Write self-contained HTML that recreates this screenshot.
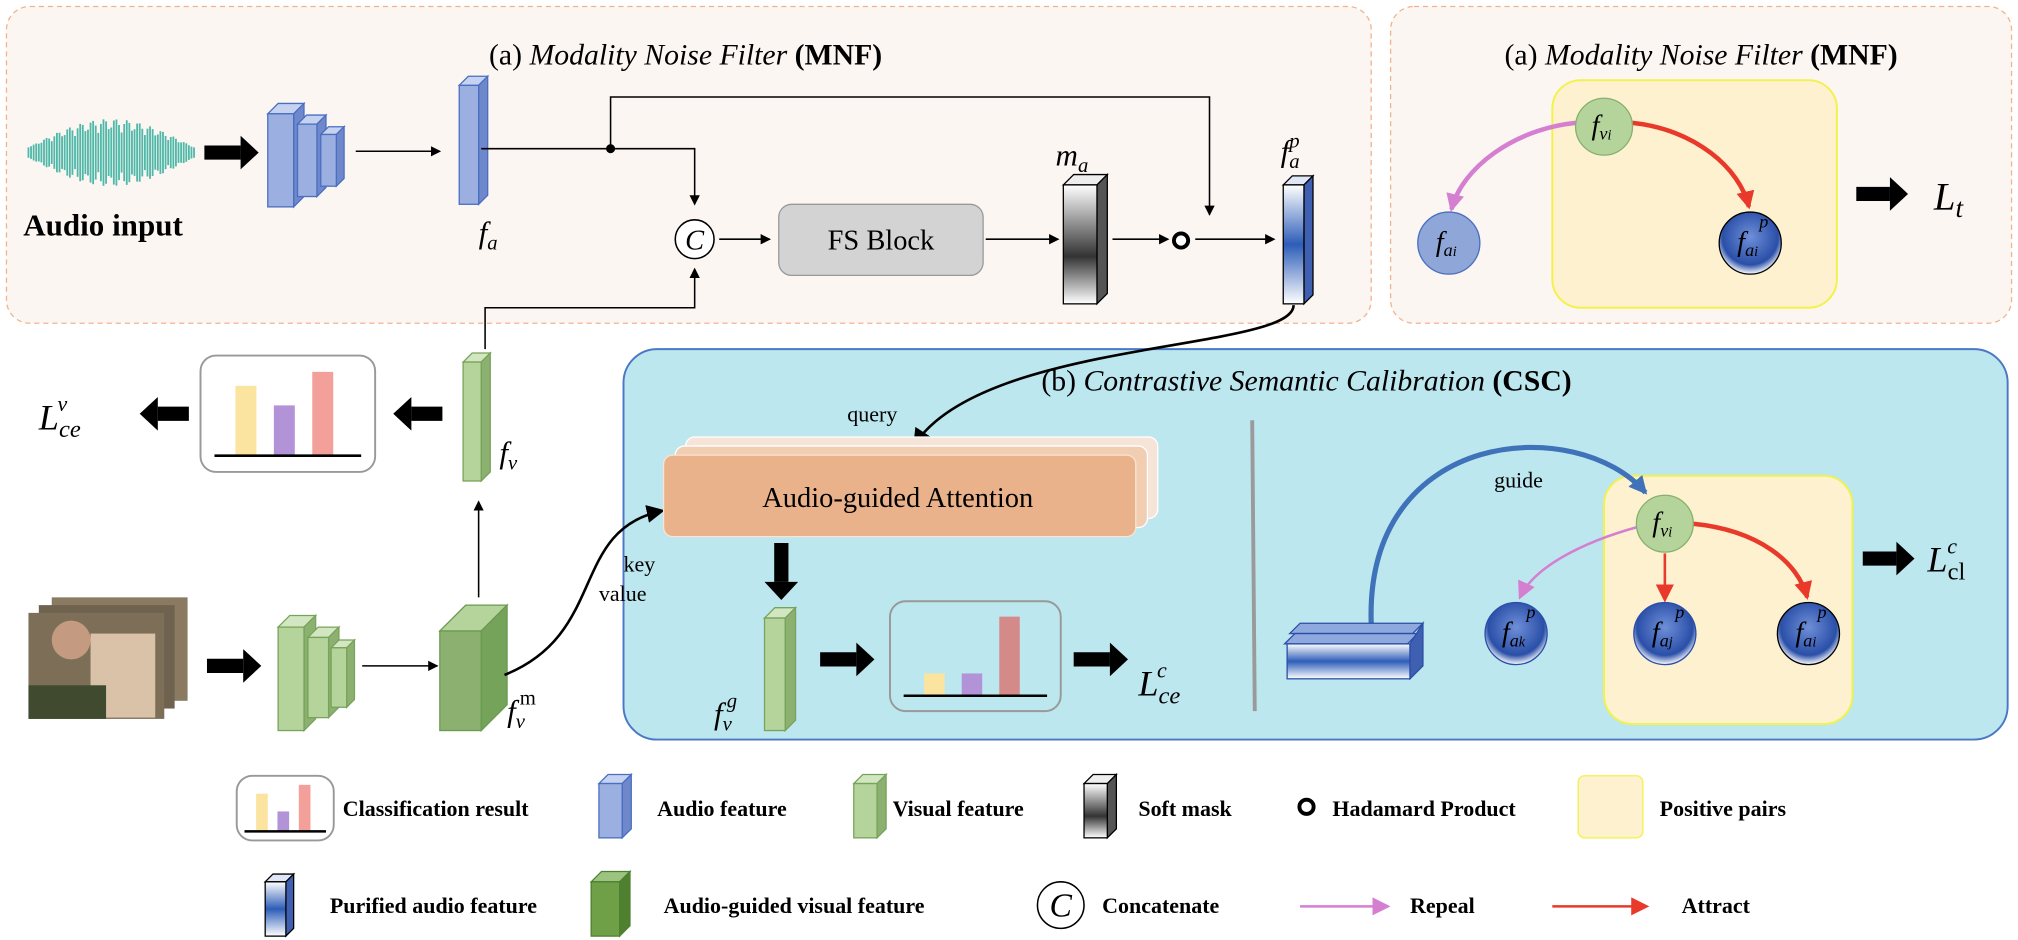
<!DOCTYPE html>
<html><head><meta charset="utf-8"><style>
html,body{margin:0;padding:0;background:#fff}
svg{display:block}
text{font-family:"Liberation Serif",serif}
.it{font-style:italic}
.b{font-weight:bold}
</style></head><body>
<svg id="s" width="2018" height="940" viewBox="0 0 1560 727" preserveAspectRatio="none" xmlns="http://www.w3.org/2000/svg">
<defs>
<marker id="ah" markerWidth="8" markerHeight="8" refX="7" refY="4" orient="auto" markerUnits="userSpaceOnUse"><path d="M0,0 L8,4 L0,8 z" fill="#000"/></marker>
<marker id="ahb" markerWidth="14" markerHeight="14" refX="12" refY="7" orient="auto" markerUnits="userSpaceOnUse"><path d="M0,0 L14,7 L0,14 z" fill="#000"/></marker>
<marker id="ahr" markerWidth="14" markerHeight="14" refX="12" refY="7" orient="auto" markerUnits="userSpaceOnUse"><path d="M0,0 L14,7 L0,14 z" fill="#e8392a"/></marker>
<marker id="ahp" markerWidth="14" markerHeight="14" refX="12" refY="7" orient="auto" markerUnits="userSpaceOnUse"><path d="M0,0 L14,7 L0,14 z" fill="#d47fd0"/></marker>
<marker id="ahg" markerWidth="14" markerHeight="14" refX="12" refY="7" orient="auto" markerUnits="userSpaceOnUse"><path d="M0,0 L14,7 L0,14 z" fill="#3f72b8"/></marker>
<linearGradient id="mask" x1="0" y1="0" x2="0" y2="1"><stop offset="0" stop-color="#fff"/><stop offset="0.6" stop-color="#333"/><stop offset="1" stop-color="#fff"/></linearGradient>
<linearGradient id="pur" x1="0" y1="0" x2="0" y2="1"><stop offset="0" stop-color="#fff"/><stop offset="0.5" stop-color="#2d5db8"/><stop offset="1" stop-color="#fff"/></linearGradient>
<radialGradient id="ball" cx="0.5" cy="0.4" r="0.6"><stop offset="0" stop-color="#6f8fd8"/><stop offset="0.75" stop-color="#2a4fa8"/><stop offset="1" stop-color="#fff"/></radialGradient>
</defs>

<!-- panels -->
<rect x="5" y="5" width="1055" height="245" rx="18" fill="#fcf6f3" stroke="#efb48c" stroke-dasharray="4 3"/>
<rect x="1075" y="5" width="480" height="245" rx="18" fill="#fcf6f3" stroke="#efb48c" stroke-dasharray="4 3"/>
<rect x="482" y="270" width="1070" height="302" rx="26" fill="#bde7ef" stroke="#4a78c4" stroke-width="1.5"/>
<text x="530" y="50" font-size="23" text-anchor="middle">(a) <tspan class="it">Modality Noise Filter</tspan> <tspan class="b">(MNF)</tspan></text>
<text x="1315" y="50" font-size="23" text-anchor="middle">(a) <tspan class="it">Modality Noise Filter</tspan> <tspan class="b">(MNF)</tspan></text>
<text x="1010" y="302" font-size="23" text-anchor="middle">(b) <tspan class="it">Contrastive Semantic Calibration</tspan> <tspan class="b">(CSC)</tspan></text>

<!-- audio input -->
<g id="wave"></g>
<text x="18" y="182" font-size="24" class="b">Audio input</text>
<g id="dyn"></g>

<!-- thin lines -->
<g fill="none" stroke="#000" stroke-width="1.2">
<line x1="275" y1="117" x2="340" y2="117" marker-end="url(#ah)"/>
<polyline points="372,115 537,115 537,158" marker-end="url(#ah)"/>
<polyline points="472,115 472,75 935,75 935,166" marker-end="url(#ah)"/>
<line x1="556" y1="185" x2="595" y2="185" marker-end="url(#ah)"/>
<line x1="762" y1="185" x2="818" y2="185" marker-end="url(#ah)"/>
<line x1="860" y1="185" x2="903" y2="185" marker-end="url(#ah)"/>
<line x1="924" y1="185" x2="985" y2="185" marker-end="url(#ah)"/>
<polyline points="375,270 375,238 537,238 537,208" marker-end="url(#ah)"/>
<line x1="370" y1="462" x2="370" y2="388" marker-end="url(#ah)"/>
<line x1="280" y1="515" x2="338" y2="515" marker-end="url(#ah)"/>
</g>
<circle cx="472" cy="115" r="3.5" fill="#000"/>
<g fill="none" stroke="#000" stroke-width="2">
<path d="M1000,236 C1000,272 760,262 707,344" marker-end="url(#ahb)"/>
<path d="M390,522 C470,490 440,410 512,395" marker-end="url(#ahb)"/>
</g>
<text x="655" y="326" font-size="17">query</text>
<text x="482" y="442" font-size="17">key</text>
<text x="463" y="465" font-size="17">value</text>

<!-- concat -->
<circle cx="537" cy="185" r="15" fill="#fff" stroke="#000" stroke-width="1.2"/>
<text x="537" y="193" font-size="22" class="it" text-anchor="middle">C</text>
<rect x="602" y="158" width="158" height="55" rx="10" fill="#d3d3d3" stroke="#999"/>
<text x="681" y="193" font-size="22" text-anchor="middle">FS Block</text>
<circle cx="913" cy="186" r="5.5" fill="#fff" stroke="#000" stroke-width="3"/>

<!-- labels -->
<g class="it" font-size="24">
<text x="370" y="188">f<tspan font-size="16" dy="5">a</tspan></text>
<text x="816" y="128">m<tspan font-size="16" dy="5">a</tspan></text>
<text x="990" y="125">f<tspan font-size="16" dy="5">a</tspan><tspan font-size="16" dx="-8" dy="-16">p</tspan></text>
<text x="386" y="358">f<tspan font-size="16" dy="5">v</tspan></text>
<text x="392" y="558">f<tspan font-size="16" dy="5">v</tspan><tspan font-size="16" dx="-4" dy="-18" font-style="normal">m</tspan></text>
<text x="552" y="560">f<tspan font-size="16" dy="5">v</tspan><tspan font-size="16" dx="-4" dy="-18">g</tspan></text>
<text x="30" y="332" font-size="28">L<tspan font-size="19" dy="6">ce</tspan><tspan font-size="17" dx="-18" dy="-20">v</tspan></text>
<text x="880" y="538" font-size="28">L<tspan font-size="19" dy="6">ce</tspan><tspan font-size="17" dx="-18" dy="-20">c</tspan></text>
<text x="1490" y="442" font-size="28">L<tspan font-size="19" dy="6" font-style="normal">cl</tspan><tspan font-size="17" dx="-14" dy="-20">c</tspan></text>
<text x="1495" y="162" font-size="30">L<tspan font-size="21" dy="6">t</tspan></text>
</g>

<!-- video frames -->
<g>
<rect x="40" y="462" width="105" height="80" fill="#8a7a62"/>
<rect x="30" y="468" width="105" height="80" fill="#6f6350"/>
<rect x="22" y="474" width="105" height="82" fill="#7d6e58"/>
<rect x="70" y="490" width="50" height="65" fill="#d9c2a8"/>
<circle cx="55" cy="495" r="15" fill="#c49b80"/>
<rect x="22" y="530" width="60" height="26" fill="#3f4a2e"/>
</g>

<!-- attention stack -->
<rect x="530" y="338" width="365" height="63" rx="7" fill="#f6e4d8" stroke="#fff"/>
<rect x="522" y="345" width="365" height="63" rx="7" fill="#f1cdb1" stroke="#fff"/>
<rect x="513" y="352" width="365" height="63" rx="7" fill="#e9b28a" stroke="#fbe3d2"/>
<text x="694" y="392" font-size="22" text-anchor="middle">Audio-guided Attention</text>

<line x1="968" y1="325" x2="970" y2="550" stroke="#9a9a9a" stroke-width="3"/>

<!-- positive pair boxes -->
<rect x="1240" y="368" width="192" height="192" rx="22" fill="#fdf1cf" stroke="#f2f24a" stroke-width="1.5"/>
<rect x="1200" y="62" width="220" height="176" rx="22" fill="#fdf1cf" stroke="#f2f24a" stroke-width="1.5"/>

<path d="M1060,482 C1055,330 1220,320 1272,381" fill="none" stroke="#3f72b8" stroke-width="4" marker-end="url(#ahg)"/>
<text x="1155" y="377" font-size="17">guide</text>

<!-- MNF right arrows/circles -->
<path d="M1218,95 C1170,100 1130,130 1122,162" fill="none" stroke="#d47fd0" stroke-width="3.5" marker-end="url(#ahp)"/>
<path d="M1262,95 C1310,100 1345,130 1352,160" fill="none" stroke="#e8392a" stroke-width="3.5" marker-end="url(#ahr)"/>
<circle cx="1240" cy="98" r="22" fill="#b4d49c" stroke="#86b06c"/>
<circle cx="1120" cy="188" r="24" fill="#8ea6d8" stroke="#4a6ec0"/>
<circle cx="1353" cy="188" r="24" fill="url(#ball)" stroke="#000"/>
<!-- CSC -->
<path d="M1268,407 C1220,420 1185,440 1175,462" fill="none" stroke="#d47fd0" stroke-width="2" marker-end="url(#ahp)"/>
<line x1="1287" y1="428" x2="1287" y2="464" stroke="#e8392a" stroke-width="2" marker-end="url(#ahr)"/>
<path d="M1308,405 C1360,410 1390,435 1397,462" fill="none" stroke="#e8392a" stroke-width="3.5" marker-end="url(#ahr)"/>
<circle cx="1287" cy="405" r="22" fill="#b4d49c" stroke="#86b06c"/>
<circle cx="1172" cy="490" r="24" fill="url(#ball)" stroke="#2a4fa8"/>
<circle cx="1287" cy="490" r="24" fill="url(#ball)" stroke="#2a4fa8"/>
<circle cx="1398" cy="490" r="24" fill="url(#ball)" stroke="#000"/>
<g class="it" font-size="22" text-anchor="middle">
<text x="1238" y="104">f<tspan font-size="14" dy="4">v<tspan font-size="11">i</tspan></tspan></text>
<text x="1285" y="411">f<tspan font-size="14" dy="4">v<tspan font-size="11">i</tspan></tspan></text>
<text x="1118" y="194">f<tspan font-size="14" dy="4">a<tspan font-size="11">i</tspan></tspan></text>
<text x="1351" y="194">f<tspan font-size="14" dy="4">a<tspan font-size="11">i</tspan></tspan></text>
<text x="1170" y="496">f<tspan font-size="14" dy="4">a<tspan font-size="11">k</tspan></tspan></text>
<text x="1285" y="496">f<tspan font-size="14" dy="4">a<tspan font-size="11">j</tspan></tspan></text>
<text x="1396" y="496">f<tspan font-size="14" dy="4">a<tspan font-size="11">i</tspan></tspan></text>
</g>
<g class="it" font-size="14"><text x="1360" y="176">p</text><text x="1180" y="478">p</text><text x="1295" y="478">p</text><text x="1405" y="478">p</text></g>

<!-- stacked purified block -->
<g>
<polygon points="1005,482 1100,482 1092,490 997,490" fill="#8fa8dd" stroke="#2a4fa8"/>
<polygon points="1001,490 1096,490 1088,498 993,498" fill="#8fa8dd" stroke="#2a4fa8"/>
<rect x="995" y="498" width="95" height="27" fill="url(#pur)" stroke="#2a4fa8"/>
<polygon points="1090,498 1100,482 1100,515 1090,525" fill="#3f5fb0" stroke="#2a4fa8"/>
</g>

<!-- legend -->
<g font-size="17" class="b">
<text x="265" y="631">Classification result</text>
<text x="508" y="631">Audio feature</text>
<text x="690" y="631">Visual feature</text>
<text x="880" y="631">Soft mask</text>
<text x="1030" y="631">Hadamard Product</text>
<text x="1283" y="631">Positive pairs</text>
<text x="255" y="706">Purified audio feature</text>
<text x="513" y="706">Audio-guided visual feature</text>
<text x="852" y="706">Concatenate</text>
<text x="1090" y="706">Repeal</text>
<text x="1300" y="706">Attract</text>
</g>
<circle cx="1010" cy="624" r="5.5" fill="#fff" stroke="#000" stroke-width="3"/>
<rect x="1220" y="600" width="50" height="48" rx="5" fill="#fdf1cf" stroke="#f2f24a"/>
<circle cx="820" cy="700" r="18" fill="#fff" stroke="#000" stroke-width="1.2"/>
<text x="820" y="709" font-size="26" class="it" text-anchor="middle">C</text>
<line x1="1005" y1="701" x2="1073" y2="701" stroke="#d47fd0" stroke-width="2" marker-end="url(#ahp)"/>
<line x1="1200" y1="701" x2="1273" y2="701" stroke="#e8392a" stroke-width="2" marker-end="url(#ahr)"/>
</svg>
<script>
// bar values for classification boxes
const clsCategories = ["c1", "c2", "c3"];
const barsV = [50, 36, 60];
const barsC = [22, 22, 78];
const barsLegend = [34, 18, 42];
const barColors = ["#fbe3a0", "#b393d8", "#f3a09a"];
const barColorsC = ["#fbe3a0", "#b393d8", "#d48a88"];
const NS = "http://www.w3.org/2000/svg";
const dyn = document.getElementById('dyn');
function mk(tag, attrs, parent) {
  const e = document.createElementNS(NS, tag);
  for (const k in attrs) e.setAttribute(k, attrs[k]);
  (parent || dyn).appendChild(e);
  return e;
}
function clsBox(x, y, w, h, vals, cols, maxV, name) {
  const g = mk('g', {});
  
  
  mk('rect', {x: x, y: y, width: w, height: h, rx: 12, fill: name.indexOf('csc') >= 0 ? '#bde7ef' : '#fff', stroke: '#999', 'stroke-width': 1.5}, g);
  const base = y + h * 0.86;
  const bw = w * 0.12;
  const plotH = h * 0.72;
  vals.forEach((v, i) => {
    const bh = v / maxV * plotH;
    const r = mk('rect', {x: x + w * 0.2 + i * w * 0.22, y: base - bh, width: bw, height: bh, fill: cols[i]}, g);
    
    
  });
  mk('line', {x1: x + w * 0.08, y1: base, x2: x + w * 0.92, y2: base, stroke: '#000', 'stroke-width': 2}, g);
}
clsBox(155, 275, 135, 90, barsV, barColors, 60, 'classification-box-visual');
clsBox(688, 465, 132, 85, barsC, barColorsC, 78, 'classification-box-csc');
clsBox(183, 600, 75, 50, barsLegend, barColors, 42, 'legend-classification-icon');

function feat(x, y, w, h, d, front, top, side, stroke, name) {
  const g = mk('g', {});
  
  
  mk('polygon', {points: `${x},${y} ${x+d},${y-d} ${x+w+d},${y-d} ${x+w},${y}`, fill: top, stroke: stroke}, g);
  mk('polygon', {points: `${x+w},${y} ${x+w+d},${y-d} ${x+w+d},${y+h-d} ${x+w},${y+h}`, fill: side, stroke: stroke}, g);
  mk('rect', {x: x, y: y, width: w, height: h, fill: front, stroke: stroke}, g);
}
const blue = ['#9bb0e0', '#c5d2f0', '#6f88cc', '#4a6ec0'];
const green = ['#b4d49c', '#d2e6c2', '#8cb070', '#78a35a'];
feat(207, 88, 20, 72, 8, blue[0], blue[1], blue[2], blue[3], 'audio-conv-1');
feat(230, 96, 15, 56, 7, blue[0], blue[1], blue[2], blue[3], 'audio-conv-2');
feat(248, 104, 12, 40, 6, blue[0], blue[1], blue[2], blue[3], 'audio-conv-3');
feat(355, 66, 15, 92, 7, blue[0], blue[1], blue[2], blue[3], 'audio-feature-fa');
feat(822, 143, 26, 92, 8, 'url(#mask)', '#eee', '#555', '#000', 'soft-mask-ma');
feat(992, 143, 16, 92, 7, 'url(#pur)', '#dfe6f6', '#3f5fb0', '#000', 'purified-audio-fap');
feat(215, 485, 20, 80, 9, green[0], green[1], green[2], green[3], 'visual-conv-1');
feat(238, 493, 16, 62, 8, green[0], green[1], green[2], green[3], 'visual-conv-2');
feat(256, 501, 12, 46, 6, green[0], green[1], green[2], green[3], 'visual-conv-3');
feat(358, 280, 14, 92, 7, green[0], green[1], green[2], green[3], 'visual-feature-fv');
feat(340, 488, 32, 77, 20, '#8cb070', '#b4d49c', '#76a35a', '#6a9a50', 'visual-feature-fvm');
feat(591, 478, 16, 87, 8, green[0], green[1], green[2], green[3], 'visual-feature-fvg');
feat(463, 606, 18, 42, 7, blue[0], blue[1], blue[2], blue[3], 'legend-audio-icon');
feat(660, 606, 18, 42, 7, green[0], green[1], green[2], green[3], 'legend-visual-icon');
feat(838, 606, 18, 42, 7, 'url(#mask)', '#eee', '#555', '#000', 'legend-mask-icon');
feat(205, 682, 16, 42, 6, 'url(#pur)', '#dfe6f6', '#3f5fb0', '#000', 'legend-purified-icon');
feat(457, 682, 22, 42, 8, '#6fa048', '#9cc480', '#4f8030', '#4f8030', 'legend-audio-guided-icon');

function thick(x1, y1, x2, y2, name) {
  const a = mk('line', {x1: x1, y1: y1, x2: x2, y2: y2, stroke: '#000', 'stroke-width': 11});
  
  
  const ang = Math.atan2(y2 - y1, x2 - x1), L = 14, W = 13;
  const tx = x2 + Math.cos(ang) * L, ty = y2 + Math.sin(ang) * L;
  const px = -Math.sin(ang) * W, py = Math.cos(ang) * W;
  mk('polygon', {points: `${tx},${ty} ${x2+px},${y2+py} ${x2-px},${y2-py}`, fill: '#000'});
}
thick(158, 118, 186, 118, 'arrow-audio-in');
thick(160, 515, 188, 515, 'arrow-video-in');
thick(342, 320, 318, 320, 'arrow-fv-cls');
thick(146, 320, 122, 320, 'arrow-cls-loss');
thick(604, 420, 604, 450, 'arrow-attn-down');
thick(634, 510, 662, 510, 'arrow-fvg-cls');
thick(830, 510, 858, 510, 'arrow-cls-lce');
thick(1440, 432, 1466, 432, 'arrow-lcl');
thick(1435, 150, 1461, 150, 'arrow-lt');

const wave = document.getElementById('wave');
for (let i = 0; i < 65; i++) {
  const x = 22 + i * 2;
  const env = Math.sin(i / 64 * Math.PI) * (0.5 + 0.5 * Math.abs(Math.sin(i * 0.7)));
  const h = 4 + env * 22;
  mk('line', {x1: x, y1: 118 - h, x2: x, y2: 118 + h, stroke: '#4fb8a8', 'stroke-width': 1.4}, wave);
}
</script>
</body></html>
